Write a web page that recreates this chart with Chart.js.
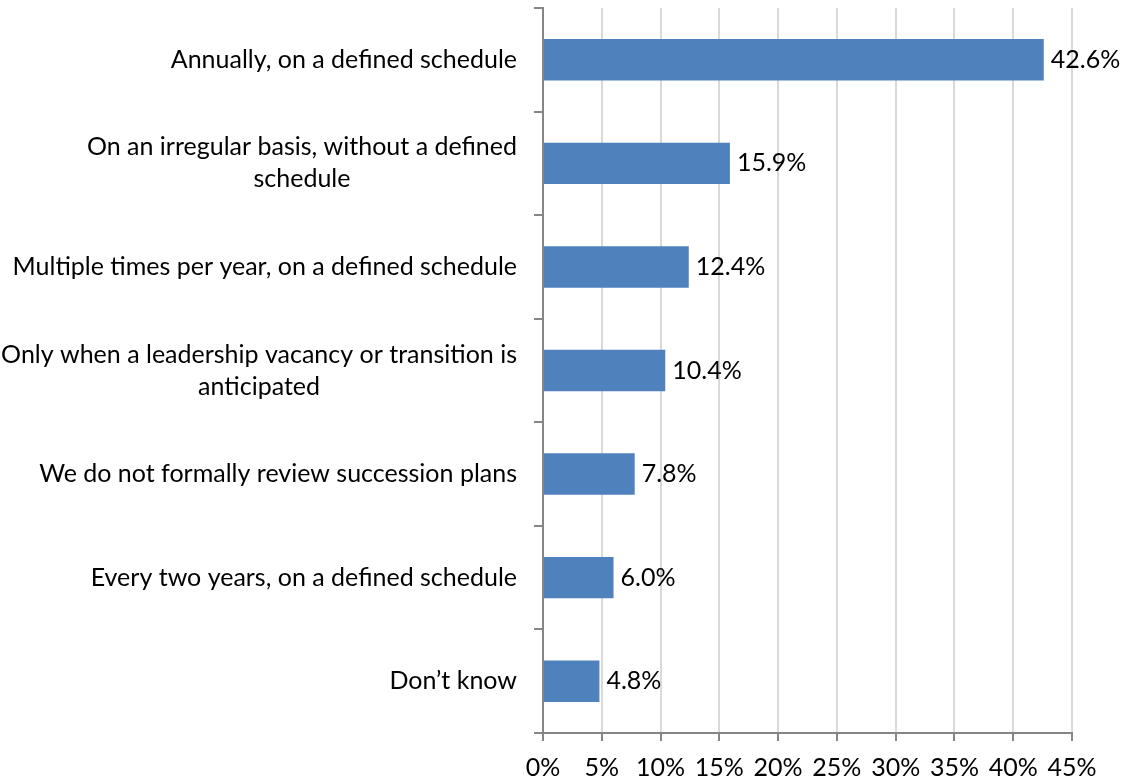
<!DOCTYPE html>
<html>
<head>
<meta charset="utf-8">
<script src="https://cdn.jsdelivr.net/npm/chart.js@4.4.0/dist/chart.umd.min.js"></script>
<style>
  html, body { margin: 0; padding: 0; background: #fff; }
  #wrap { width: 1123px; height: 782px; }
</style>
</head>
<body>
<div id="wrap"><canvas id="chart"></canvas></div>
<script>
const categories = [
    ['Annually, on a defined schedule'],
    ['On an irregular basis, without a defined', 'schedule'],
    ['Multiple times per year, on a defined schedule'],
    ['Only when a leadership vacancy or transition is', 'anticipated'],
    ['We do not formally review succession plans'],
    ['Every two years, on a defined schedule'],
    ['Don\u2019t know']
];
const shares = [42.6, 15.9, 12.4, 10.4, 7.8, 6.0, 4.8];
const xTickValues = [0, 5, 10, 15, 20, 25, 30, 35, 40, 45];

const Theme = {
    bar: '#4F81BD',
    axis: '#868686',
    grid: '#D9D9D9',
    text: '#000000',
    font: 'Lato, "Open Sans", sans-serif',
    size: 25
};

// category labels: right-aligned block, lines centred inside the block
const yLabelPlugin = {
    id: 'yLabels',
    afterDraw(chart) {
        const ctx = chart.ctx;
        const scale = chart.scales.y;
        const lh = 32;
        ctx.save();
        ctx.font = Theme.size + 'px ' + Theme.font;
        ctx.fillStyle = Theme.text;
        ctx.textAlign = 'center';
        ctx.textBaseline = 'middle';
        categories.forEach((lines, i) => {
            const yc = scale.getPixelForValue(i);
            const w = Math.max(...lines.map(l => ctx.measureText(l).width));
            const cx = scale.right - 26 - w / 2;
            const y0 = yc - (lines.length - 1) * lh / 2;
            lines.forEach((l, j) => ctx.fillText(l, cx, y0 + j * lh));
        });
        ctx.restore();
    }
};

const valueLabelPlugin = {
    id: 'valueLabels',
    afterDatasetsDraw(chart) {
        const ctx = chart.ctx;
        const meta = chart.getDatasetMeta(0);
        ctx.save();
        ctx.font = Theme.size + 'px ' + Theme.font;
        ctx.fillStyle = Theme.text;
        ctx.textAlign = 'left';
        ctx.textBaseline = 'middle';
        meta.data.forEach((bar, i) => {
            ctx.fillText(shares[i].toFixed(1) + '%', bar.x + 7, bar.y);
        });
        ctx.restore();
    }
};

new Chart(document.getElementById('chart'), {
    type: 'bar',
    data: {
        labels: categories.map(c => c.join(' ')),
        datasets: [{
            data: shares,
            backgroundColor: Theme.bar,
            borderWidth: 0,
            categoryPercentage: 1,
            barPercentage: 0.4
        }]
    },
    options: {
        indexAxis: 'y',
        responsive: true,
        maintainAspectRatio: false,
        animation: false,
        layout: { padding: { top: 8, right: 51, left: 0, bottom: 0 } },
        plugins: { legend: { display: false }, tooltip: { enabled: false } },
        scales: {
            x: {
                min: 0,
                max: 45,
                afterBuildTicks: s => { s.ticks = xTickValues.map(v => ({ value: v })); },
                afterFit: s => { s.height = 49; },
                ticks: {
                    color: Theme.text,
                    font: { family: Theme.font, size: Theme.size },
                    padding: 12,
                    maxRotation: 0,
                    callback: v => v + '%'
                },
                grid: {
                    color: Theme.grid,
                    lineWidth: 2,
                    tickColor: Theme.axis,
                    tickLength: 8
                },
                border: { color: Theme.axis, width: 2 }
            },
            y: {
                afterFit: s => { s.width = 543; },
                ticks: { display: false },
                grid: {
                    offset: true,
                    drawOnChartArea: false,
                    color: Theme.axis,
                    lineWidth: 2,
                    tickLength: 9
                },
                border: { color: Theme.axis, width: 2 }
            }
        }
    },
    plugins: [yLabelPlugin, valueLabelPlugin]
});
</script>
</body>
</html>
